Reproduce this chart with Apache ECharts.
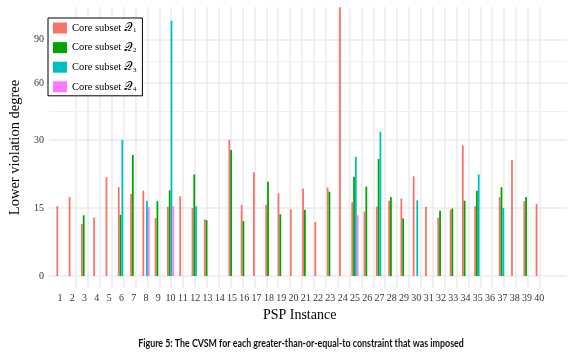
<!DOCTYPE html>
<html>
<head>
<meta charset="utf-8">
<script src="https://cdn.jsdelivr.net/npm/echarts@6/dist/echarts.min.js"></script>
<style>
  html, body { margin: 0; padding: 0; background: #fff; }
  #main { width: 580px; height: 354px; }
</style>
</head>
<body>
<div id="main"></div>
<script>
// PSP instances 1..40
var instances = [];
for (var i = 1; i <= 40; i++) instances.push(String(i));

// lower violation degree per core subset (0 = no bar)
var q1 = [15.4, 17.4, 11.5, 12.9, 21.8, 19.6, 18.1, 18.8, 12.8, 15.3,
          17.6, 15.0, 12.5, 0, 30.1, 15.7, 22.9, 15.7, 18.2, 14.7,
          19.3, 11.9, 19.5, 116, 16.3, 14.2, 15.3, 16.6, 17.1, 22.0,
          15.3, 12.9, 14.6, 28.8, 15.4, 0, 17.4, 25.6, 16.5, 15.9];
var q2 = [0, 0, 13.4, 0, 0, 13.5, 26.7, 0, 16.5, 18.9,
          0, 22.4, 12.3, 0, 27.8, 12.1, 0, 20.8, 13.6, 0,
          14.6, 0, 18.6, 0, 21.9, 19.7, 25.8, 17.4, 12.7, 0,
          0, 14.4, 14.9, 16.6, 18.8, 0, 19.6, 0, 17.4, 0];
var q3 = [0, 0, 0, 0, 0, 30.1, 0, 16.6, 0, 104.7,
          0, 15.4, 0, 0, 0, 0, 0, 0, 0, 0,
          0, 0, 0, 0, 26.3, 0, 33.7, 0, 0, 16.7,
          0, 0, 0, 0, 22.4, 0, 15.0, 0, 0, 0];
var q4 = [0, 0, 0, 0, 0, 0, 0, 15.2, 0, 15.4,
          0, 0, 0, 0, 0, 0, 0, 0, 0, 0,
          0, 0, 0, 0, 13.4, 0, 0, 0, 0, 0,
          0, 0, 0, 0, 0, 0, 0, 0, 0, 0];

var yTicks = [0, 15, 30, 60, 90];
var names = ['Core subset Q1', 'Core subset Q2', 'Core subset Q3', 'Core subset Q4'];
var colors = ['#F9736A', '#00A600', '#00BFC4', '#FF77FF'];

// y scale: linear up to 30, square-root above
function T(v) {
  if (v <= 30) return v * 68 / 15;
  return 136 + 25.1 * (Math.sqrt(v) - Math.sqrt(30));
}
var tickPos = yTicks.map(T);
var minorPos = [];
for (var k = 2; k < tickPos.length - 1; k++) minorPos.push((tickPos[k] + tickPos[k + 1]) / 2);

var xTickVals = instances.map(function (d) { return +d; });

var serif = 'Liberation Serif';
var myChart = echarts.init(document.getElementById('main'));

var sets = [q1, q2, q3, q4];
var series = sets.map(function (arr, idx) {
  return {
    name: names[idx],
    type: 'bar',
    xAxisIndex: 1,
    yAxisIndex: 1,
    barWidth: 1.8,
    barGap: '0%',
    z: 3,
    itemStyle: { color: colors[idx] },
    data: arr.map(T)
  };
});
// minor grid lines
series.push({
  type: 'line',
  xAxisIndex: 0,
  yAxisIndex: 0,
  data: [[0, 0]],
  showSymbol: false,
  lineStyle: { opacity: 0 },
  z: 1,
  markLine: {
    silent: true,
    z: 1,
    symbol: ['none', 'none'],
    label: { show: false },
    lineStyle: { color: '#F0F0F0', width: 1, type: 'solid' },
    data: minorPos.map(function (m) { return { yAxis: m }; })
  }
});

var option = {
  animation: false,
  color: colors,
  legend: {
    orient: 'vertical',
    left: 48,
    top: 18,
    padding: [4, 6, 3, 5],
    itemWidth: 14,
    itemHeight: 11,
    itemGap: 7.6,
    icon: 'rect',
    backgroundColor: '#fff',
    borderColor: '#000',
    borderWidth: 1,
    data: names,
    formatter: function (name) {
      return 'Core subset {q|\uD835\uDCAC}{s|' + name.slice(-1) + '}';
    },
    textStyle: {
      fontFamily: serif,
      fontSize: 10.5,
      color: '#000',
      rich: {
        q: { fontFamily: serif, fontSize: 11.5, color: '#000' },
        s: { fontFamily: serif, fontSize: 7, color: '#000', verticalAlign: 'bottom', padding: [4, 0, 0, 0] }
      }
    }
  },
  grid: [
    { left: 32, right: 13, top: 7, bottom: 66 },
    { left: 53.86, right: 34.6, top: 7, bottom: 66 }
  ],
  xAxis: [{
    gridIndex: 0,
    type: 'value',
    min: -1.28,
    max: 42.29,
    axisLine: { show: false },
    axisTick: { show: false, customValues: xTickVals },
    axisLabel: { show: false, customValues: xTickVals },
    splitLine: { show: true, lineStyle: { color: '#EBEBEB', width: 1.5 } }
  }, {
    gridIndex: 1,
    type: 'category',
    data: instances,
    axisLine: { show: false },
    axisTick: { show: false },
    axisLabel: { interval: 0, margin: 5, fontFamily: serif, fontSize: 10, color: '#333' },
    splitLine: { show: false },
    name: 'PSP Instance',
    nameLocation: 'middle',
    nameGap: 19,
    nameTextStyle: { fontFamily: serif, fontSize: 14, color: '#000' }
  }],
  yAxis: [{
    gridIndex: 0,
    type: 'value',
    min: -12,
    max: 269,
    axisLine: { show: false },
    axisTick: { show: false, customValues: tickPos },
    axisLabel: {
      customValues: tickPos,
      margin: 5,
      fontFamily: serif,
      fontSize: 10,
      color: '#333',
      formatter: function (val) {
        for (var j = 0; j < tickPos.length; j++) {
          if (Math.abs(tickPos[j] - val) < 0.01) return String(yTicks[j]);
        }
        return '';
      }
    },
    splitLine: { show: true, lineStyle: { color: '#EBEBEB', width: 1.5 } },
    name: 'Lower violation degree',
    nameLocation: 'middle',
    nameGap: 14,
    nameTextStyle: { fontFamily: serif, fontSize: 14.5, color: '#000' }
  }, {
    gridIndex: 1,
    type: 'value',
    min: -12,
    max: 269,
    show: false,
    splitLine: { show: false }
  }],
  graphic: [{
    type: 'text',
    x: 301,
    y: 343,
    scaleX: 0.77,
    style: {
      text: 'Figure 5: The CVSM for each greater-than-or-equal-to constraint that was imposed',
      fontFamily: 'Lato',
      fontWeight: 'bold',
      fontSize: 11.5,
      fill: '#111',
      textAlign: 'center',
      textVerticalAlign: 'middle'
    }
  }],
  series: series
};

myChart.setOption(option);
window.addEventListener('resize', function () {
  myChart.resize();
});
</script>
</body>
</html>
